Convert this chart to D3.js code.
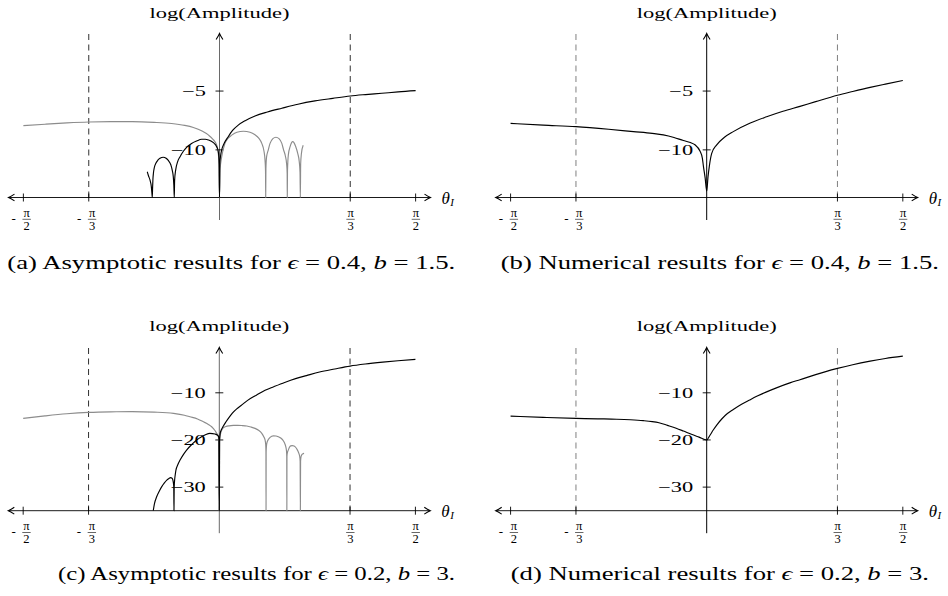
<!DOCTYPE html>
<html><head><meta charset="utf-8">
<script src="https://cdn.jsdelivr.net/npm/d3@7/dist/d3.min.js"></script>
<style>
body{margin:0;background:#fff}
svg{display:block}
text{font-family:'Liberation Serif','Times New Roman',serif;fill:#000}
</style>
</head><body>
<svg id="chart" width="948" height="596"></svg>
<script>
// ---------------- DATA (theta in degrees, value = log(Amplitude)) ----------------
const xTickValues = [-90, -60, 60, 90];
const xTickSigns  = ["-", "-", "", ""];
const xTickNums   = ["π", "π", "π", "π"];
const xTickDens   = ["2", "3", "3", "2"];
const dashedAt    = [-60, 60];

const yTicksTop    = [-5, -10];
const yTicksBottom = [-10, -20, -30];

const axisLabel = "log(Amplitude)";

const captionA = [["(a) Asymptotic results for ",0],["ϵ",1],[" = 0.4, ",0],["b",1],[" = 1.5.",0]];
const captionB = [["(b) Numerical results for ",0],["ϵ",1],[" = 0.4, ",0],["b",1],[" = 1.5.",0]];
const captionC = [["(c) Asymptotic results for ",0],["ϵ",1],[" = 0.2, ",0],["b",1],[" = 3.",0]];
const captionD = [["(d) Numerical results for ",0],["ϵ",1],[" = 0.2, ",0],["b",1],[" = 3.",0]];

// (a) asymptotic, eps=0.4, b=1.5 — dips (log 0) drawn at the axis floor -14.05
const aGray = [[-90,-7.94],[-80,-7.82],[-70,-7.71],[-60,-7.63],[-50,-7.6],[-40,-7.6],[-30,-7.66],[-22,-7.76],[-16,-7.92],[-12,-8.1],[-8,-8.4],[-5,-8.75],[-3,-9.1],[-1.8,-9.4],[-1,-9.78],[-0.4,-10.58],[0,-14.05],
 [0.3,-11.6],[1.0,-10.6],[2.5,-9.45],[4,-9.0],[5.6,-8.75],[8,-8.5],[11,-8.42],[14,-8.5],[16.3,-8.72],[18,-9.0],[19.4,-9.45],[20.4,-10.1],[20.9,-10.9],[21.12,-11.8],[21.2,-14.05],
 [21.3,-11.6],[21.6,-10.6],[22.4,-10.0],[23.2,-9.45],[24.5,-9.05],[25.9,-8.93],[27.3,-9.05],[28.6,-9.45],[29.4,-10.0],[30.2,-10.5],[30.8,-11.2],[31.05,-12.0],[31.1,-14.05],
 [31.2,-11.8],[31.6,-10.4],[32.4,-9.73],[33.6,-9.3],[35.0,-9.73],[35.9,-10.3],[36.6,-11.0],[36.95,-11.9],[37.1,-14.05],
 [37.25,-11.2],[37.6,-10.3],[38.4,-9.6]];
const aBlack = [[-33.15,-11.86],[-32.6,-12.2],[-31.9,-12.56],[-31.3,-13.1],[-31.0,-13.7],[-30.85,-14.05],
 [-30.7,-13.2],[-30.55,-12.5],[-30.3,-11.95],[-29.9,-11.5],[-29.2,-11.14],[-28.3,-10.88],[-27.3,-10.72],[-25.8,-10.63],[-24.5,-10.72],[-23.5,-10.9],[-22.3,-11.29],[-21.6,-11.8],[-21.2,-12.3],[-20.95,-13.0],[-20.75,-14.05],
 [-20.6,-12.6],[-20.1,-11.7],[-19.2,-11.0],[-18.1,-10.58],[-16.5,-10.1],[-15.1,-9.78],[-12.8,-9.45],[-10.5,-9.25],[-8.2,-9.1],[-6.5,-9.1],[-5.1,-9.16],[-2.8,-9.39],[-1.3,-9.73],[-0.55,-10.16],[-0.15,-11.2],[0,-14.05],
 [0.15,-11.2],[0.5,-10.5],[1.0,-10.0],[2,-9.5],[4,-8.88],[6,-8.35],[8.6,-7.9],[12,-7.5],[16.3,-7.12],[22,-6.78],[28.6,-6.46],[36,-6.12],[43.8,-5.84],[52,-5.62],[60,-5.42],[67,-5.3],[74.5,-5.19],[82,-5.07],[90,-4.97]];

// (b) numerical, eps=0.4, b=1.5
const bNum = [[-90,-7.75],[-75,-7.9],[-60,-8.03],[-45,-8.25],[-33.6,-8.45],[-25,-8.6],[-19.9,-8.73],[-15,-8.95],[-10.7,-9.21],[-7.5,-9.38],[-5.4,-9.57],[-3.1,-10.1],[-2,-10.7],[-1.5,-11.4],[-0.7,-12.4],[0,-13.5],
 [0.6,-12.3],[1.2,-11.4],[2.3,-10.3],[4.6,-9.57],[8,-8.95],[12.2,-8.45],[20,-7.72],[27.5,-7.19],[35,-6.72],[42.8,-6.30],[50,-5.9],[60,-5.36],[67,-5.04],[75,-4.69],[82,-4.41],[90,-4.10]];

// (c) asymptotic, eps=0.2, b=3 — dips drawn at the axis floor -35
const cGray = [[-90,-15.42],[-80,-14.9],[-70,-14.45],[-60,-14.15],[-50,-14.03],[-40,-14.0],[-30,-14.1],[-21,-14.36],[-16,-14.75],[-13.5,-15.08],[-10,-15.55],[-7.3,-16.14],[-5,-16.7],[-3.5,-17.2],[-2,-18.0],[-1.2,-18.6],[-0.4,-19.2],[0,-35],
 [0.2,-19.6],[0.8,-18.3],[1.8,-17.4],[3,-17.15],[4.5,-17.0],[6.5,-16.92],[8.5,-16.9],[10.5,-16.95],[12.6,-17.05],[14.5,-17.25],[16.4,-17.54],[18,-17.95],[19.5,-18.6],[20.4,-19.3],[21.0,-20.0],[21.3,-21.0],[21.4,-22.5],[21.45,-35],
 [21.5,-22.5],[21.8,-20.7],[22.5,-19.9],[23.3,-19.45],[24.8,-19.12],[26,-19.15],[27.1,-19.32],[28.2,-19.6],[29.1,-20.0],[29.9,-20.6],[30.5,-21.4],[30.85,-22.4],[30.95,-23.5],[31.0,-35],
 [31.05,-23.5],[31.3,-22.6],[31.7,-22.1],[32.2,-21.55],[32.8,-21.25],[33.5,-21.2],[34.3,-21.3],[35.1,-21.6],[35.8,-22.1],[36.4,-22.7],[36.9,-23.5],[37.1,-24.5],[37.2,-35],
 [37.3,-24.5],[37.5,-23.6],[37.8,-23.2],[38.3,-22.95],[38.9,-22.85]];
const cBlack = [[-30.3,-35],[-29.8,-33.6],[-28.7,-32.0],[-27.5,-30.8],[-26.4,-29.9],[-25.2,-29.1],[-24.1,-28.5],[-23.1,-28.15],[-22.3,-28.0],[-21.7,-28.1],[-21.4,-28.35],[-21.1,-29.0],[-20.9,-29.9],[-20.8,-35],
 [-20.7,-30.0],[-20.5,-28.5],[-20.2,-27.3],[-19.9,-26.4],[-19,-25.2],[-18,-24.26],[-16.5,-23.1],[-15,-22.14],[-12.5,-20.9],[-10.4,-20.0],[-8.5,-19.4],[-6.6,-18.96],[-4.3,-18.6],[-2.0,-18.75],[-0.8,-19.0],[-0.2,-19.5],[0,-35],
 [0.1,-20.5],[0.4,-18.6],[1,-17.8],[1.8,-17.1],[3,-16.2],[4.5,-15.2],[6,-14.3],[8,-13.4],[10,-12.7],[13,-11.6],[17,-10.5],[21,-9.45],[25,-8.7],[30,-7.8],[35,-7.0],[40,-6.35],[46,-5.6],[53,-4.95],[60,-4.34],[67,-3.9],[75,-3.5],[82,-3.2],[90,-2.92]];

// (d) numerical, eps=0.2, b=3
const dNum = [[-90,-14.94],[-75,-15.2],[-60,-15.43],[-50,-15.52],[-41.3,-15.6],[-35,-15.72],[-29.1,-15.9],[-25,-16.1],[-21.9,-16.35],[-18,-16.9],[-14,-17.5],[-10.7,-18.1],[-7,-18.8],[-3.5,-19.4],[0,-20.0],
 [1.5,-19.0],[3,-17.9],[4.6,-16.85],[7,-15.5],[9.5,-14.4],[12.2,-13.55],[16,-12.45],[20,-11.45],[23.2,-10.7],[27.5,-9.8],[32,-8.95],[38.5,-7.85],[42.8,-7.22],[50,-6.14],[55,-5.45],[60,-4.83],[67,-4.04],[75,-3.28],[82,-2.72],[90,-2.22]];

// ---------------- LAYOUT ----------------
const GRAY = "#8c8c8c", BLACK = "#000";
const panels = [
  {x0:219.5, axisY:197.5, topY:34,  yDom:[-14.05,-0.15], yTicks:yTicksTop,    series:[[aGray,GRAY],[aBlack,BLACK]], yAxisColor:"#6a6a6a", dashColor:"#1a1a1a", caption:captionA, capX:7.3,   capW:448,   capY:268.5, labelY:17.5},
  {x0:706.7, axisY:197.5, topY:34,  yDom:[-14.05,-0.15], yTicks:yTicksTop,    series:[[bNum,BLACK]],                 yAxisColor:"#000",    dashColor:"#707070", caption:captionB, capX:500.7, capW:438.3, capY:268.5, labelY:17.5},
  {x0:219.3, axisY:510.7, topY:348, yDom:[-35,-0.5],     yTicks:yTicksBottom, series:[[cGray,GRAY],[cBlack,BLACK]], yAxisColor:"#6a6a6a", dashColor:"#1a1a1a", caption:captionC, capX:58,    capW:397,   capY:580,   labelY:331},
  {x0:706.7, axisY:510.7, topY:348, yDom:[-35,-0.5],     yTicks:yTicksBottom, series:[[dNum,BLACK]],                 yAxisColor:"#000",    dashColor:"#707070", caption:captionD, capX:510.7, capW:418.3, capY:580,   labelY:331}
];
const HALF = 210.5;         // half length of x axis in px
const XMAX = 96.6;          // degrees at the arrow tips
const STRETCH = 1.6;        // horizontal text stretch of the reference

const svg = d3.select("#chart");

function arrowPath(tx, ty, dir){ // dir: 'r','l','u'
  const p = d3.path();
  const L = 6, W = 3.4, c = 2.2;
  if(dir==='r'){ p.moveTo(tx-L,ty-W); p.quadraticCurveTo(tx-c,ty-0.9,tx,ty); p.quadraticCurveTo(tx-c,ty+0.9,tx-L,ty+W); }
  if(dir==='l'){ p.moveTo(tx+L,ty-W); p.quadraticCurveTo(tx+c,ty-0.9,tx,ty); p.quadraticCurveTo(tx+c,ty+0.9,tx+L,ty+W); }
  if(dir==='u'){ p.moveTo(tx-W,ty+L); p.quadraticCurveTo(tx-0.9,ty+c,tx,ty); p.quadraticCurveTo(tx+0.9,ty+c,tx+W,ty+L); }
  return p.toString();
}

panels.forEach(P => {
  const g = svg.append("g");
  const x = d3.scaleLinear().domain([-XMAX, XMAX]).range([P.x0-HALF, P.x0+HALF]);
  const y = d3.scaleLinear().domain(P.yDom).range([P.axisY, P.topY]).clamp(true);

  // dashed verticals
  g.selectAll(".dash").data(dashedAt).join("line")
    .attr("x1", d=>x(d)).attr("x2", d=>x(d)).attr("y1", P.topY).attr("y2", P.axisY)
    .attr("stroke", P.dashColor).attr("stroke-width", 0.9).attr("stroke-dasharray", "6,4.5");

  // x axis
  g.append("line").attr("x1", x(-XMAX)).attr("x2", x(XMAX)).attr("y1", P.axisY).attr("y2", P.axisY)
    .attr("stroke", "#000").attr("stroke-width", 0.9);
  g.append("path").attr("d", arrowPath(x(XMAX)+0.5, P.axisY, 'r')).attr("fill","none").attr("stroke","#000").attr("stroke-width",1.1);
  g.append("path").attr("d", arrowPath(x(-XMAX)-0.5, P.axisY, 'l')).attr("fill","none").attr("stroke","#000").attr("stroke-width",1.1);
  g.selectAll(".xt").data(xTickValues).join("line")
    .attr("x1", d=>x(d)).attr("x2", d=>x(d)).attr("y1", P.axisY-4).attr("y2", P.axisY+4)
    .attr("stroke", "#000").attr("stroke-width", 0.9);

  // x tick labels (fractions)
  xTickValues.forEach((v, i) => {
    const neg = xTickSigns[i] !== "";
    const cx = x(v) + (neg ? 3.3 : 0.3);
    g.append("text").attr("x", cx).attr("y", P.axisY+19.3).attr("text-anchor","middle")
      .attr("font-size", 12.5).text(xTickNums[i]);
    g.append("line").attr("x1", cx-4.2).attr("x2", cx+4.2).attr("y1", P.axisY+21.8).attr("y2", P.axisY+21.8)
      .attr("stroke","#000").attr("stroke-width",0.6);
    g.append("text").attr("x", cx).attr("y", P.axisY+32.3).attr("text-anchor","middle")
      .attr("font-size", 12.5).text(xTickDens[i]);
    if(neg) g.append("text").attr("x", x(v)-9.6).attr("y", P.axisY+25.2).attr("text-anchor","middle")
      .attr("font-size", 13).text(xTickSigns[i]);
  });

  // theta_I label
  const th = g.append("text").attr("x", x(XMAX)+11.5).attr("y", P.axisY+6).attr("font-style","italic");
  th.append("tspan").attr("font-size", 17).text("θ");
  th.append("tspan").attr("font-size", 11).attr("dy", 2.5).attr("dx", 0.5).text("I");

  // y axis
  g.append("line").attr("x1", P.x0).attr("x2", P.x0).attr("y1", P.axisY+22.5).attr("y2", P.topY+0.5)
    .attr("stroke", P.yAxisColor).attr("stroke-width", 1);
  g.append("path").attr("d", arrowPath(P.x0, P.topY-0.5, 'u')).attr("fill","none").attr("stroke","#000").attr("stroke-width",1.1);
  g.selectAll(".yt").data(P.yTicks).join("line")
    .attr("x1", P.x0-4).attr("x2", P.x0+4).attr("y1", d=>y(d)).attr("y2", d=>y(d))
    .attr("stroke", "#000").attr("stroke-width", 0.9);
  g.selectAll(".yl").data(P.yTicks).join("text")
    .attr("x", P.x0-13.5).attr("y", d=>y(d)+4.8).attr("text-anchor","end").attr("font-size", 14)
    .text(d => "\u2212" + Math.abs(d))
    .each(function(){ const w = this.getComputedTextLength(); d3.select(this).attr("textLength", w*STRETCH).attr("lengthAdjust","spacingAndGlyphs"); });

  // y axis label
  g.append("text").attr("x", P.x0).attr("y", P.labelY).attr("text-anchor","middle").attr("font-size", 15)
    .attr("textLength", 140).attr("lengthAdjust","spacingAndGlyphs").text(axisLabel);

  // curves
  const line = d3.line().x(d=>x(d[0])).y(d=>y(d[1])).curve(d3.curveMonotoneX);
  P.series.forEach(([data, color]) => {
    g.append("path").datum(data).attr("d", line).attr("fill","none")
      .attr("stroke", color).attr("stroke-width", 1.15).attr("stroke-linejoin","round");
  });

  // caption
  const cap = g.append("text").attr("x", P.capX).attr("y", P.capY).attr("font-size", 19)
    .attr("textLength", P.capW).attr("lengthAdjust","spacingAndGlyphs");
  P.caption.forEach(([t, it]) => {
    const s = cap.append("tspan").text(t);
    if(it) s.attr("font-style","italic").attr("font-weight","normal");
  });
});
</script>
</body></html>
